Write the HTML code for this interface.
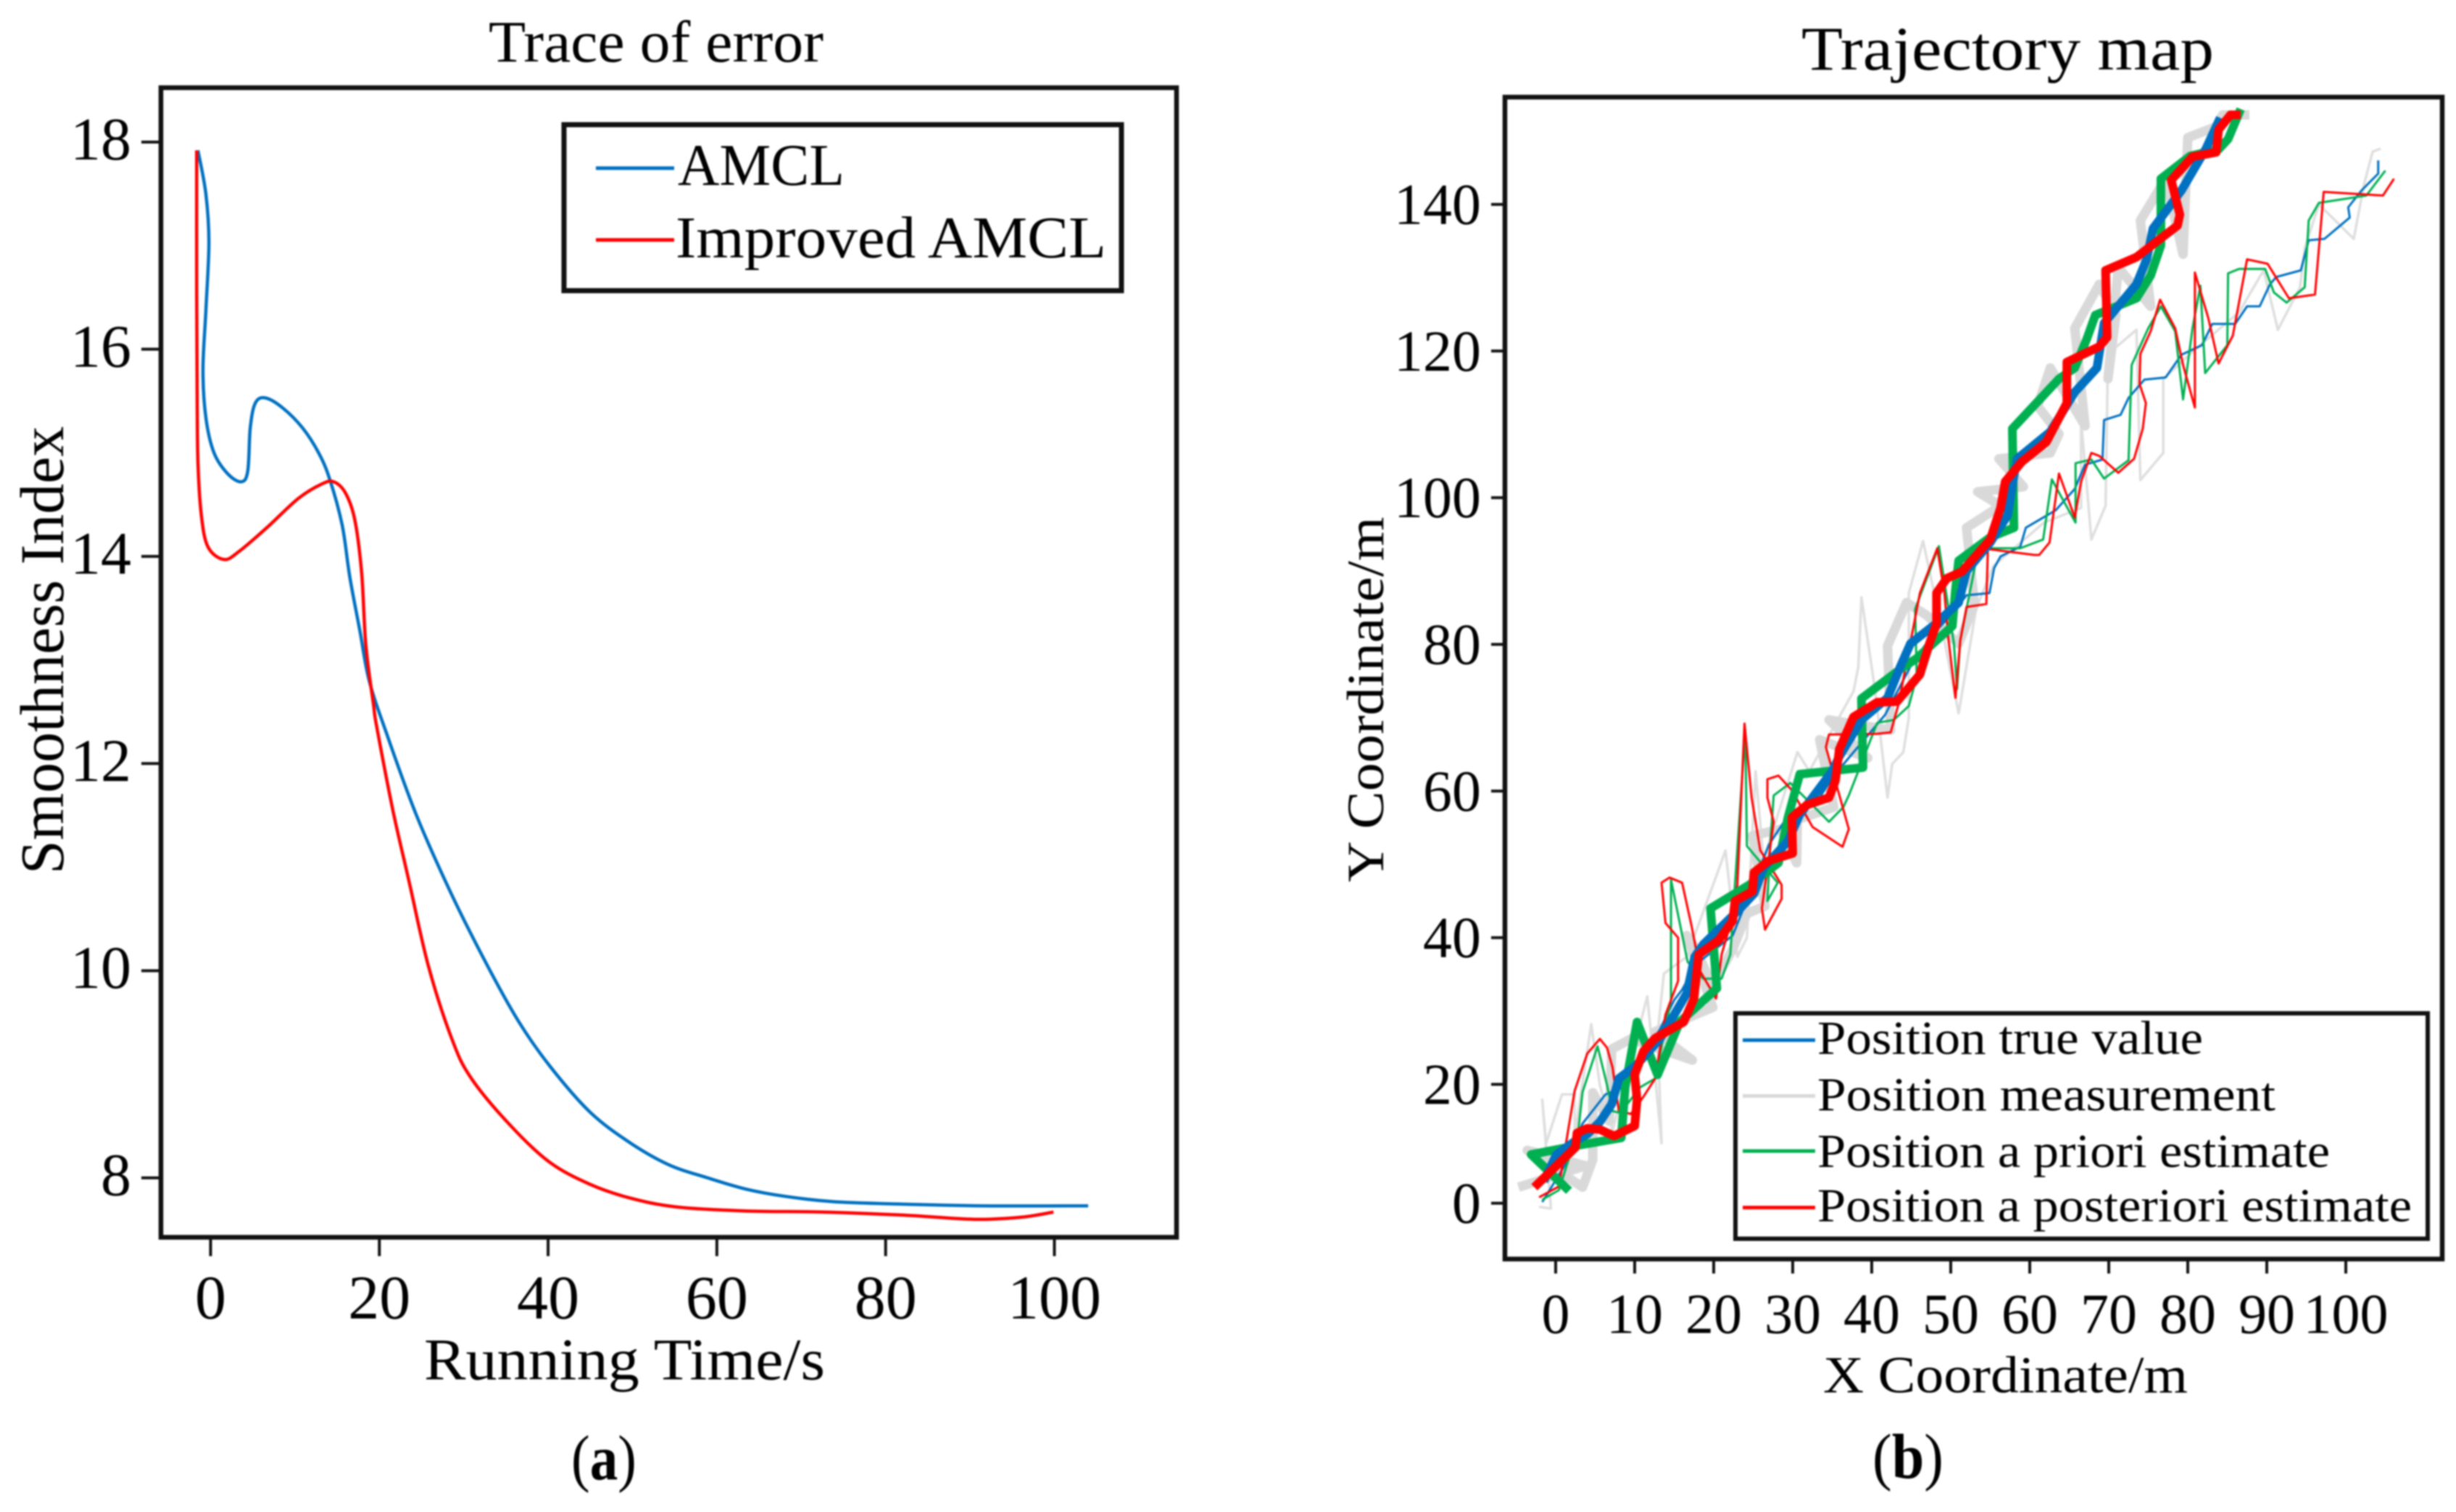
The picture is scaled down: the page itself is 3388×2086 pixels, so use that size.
<!DOCTYPE html>
<html lang="en">
<head>
<meta charset="utf-8">
<title>Trace of error and Trajectory map</title>
<style>
  html, body { margin: 0; padding: 0; background: #fff; }
  svg { display: block; }
  text { font-family: "Liberation Serif", serif; fill: #000; }
</style>
</head>
<body>
<svg id="figure" xmlns="http://www.w3.org/2000/svg" width="3388" height="2086" viewBox="0 0 3388 2086">
  <defs>
    <filter id="soft" x="0" y="0" width="3388" height="2086" filterUnits="userSpaceOnUse" color-interpolation-filters="sRGB">
      <feGaussianBlur stdDeviation="1.1"/>
    </filter>
  </defs>
  <rect width="3388" height="2086" fill="#fff"/>
  <g id="root" filter="url(#soft)">
    <!-- Panel A -->
    <g id="panel-a">
      <text x="674" y="85" font-size="82" textLength="462" lengthAdjust="spacingAndGlyphs">Trace of error</text>
      <g id="a-series"></g>
      <rect x="222" y="121" width="1401" height="1586" fill="none" stroke="#111" stroke-width="6.5"/>
      <g id="a-axes"></g>
      <text x="585" y="1903" font-size="82" textLength="553" lengthAdjust="spacingAndGlyphs">Running Time/s</text>
      <text transform="translate(87,1206) rotate(-90)" font-size="86" textLength="618" lengthAdjust="spacingAndGlyphs">Smoothness Index</text>
      <g>
        <rect x="778" y="172" width="769" height="229" fill="#fff" stroke="#111" stroke-width="7"/>
        <g>
          <line x1="822" y1="232" x2="930" y2="232" stroke="#0070c0" stroke-width="5"/>
          <text x="935" y="255" font-size="82" textLength="230" lengthAdjust="spacingAndGlyphs">AMCL</text>
        </g>
        <g>
          <line x1="822" y1="331" x2="930" y2="331" stroke="#ff0000" stroke-width="5"/>
          <text x="932" y="355" font-size="82" textLength="594" lengthAdjust="spacingAndGlyphs">Improved AMCL</text>
        </g>
      </g>
      <text x="788" y="2041" font-size="88" textLength="90" lengthAdjust="spacingAndGlyphs">(<tspan font-weight="bold">a</tspan>)</text>
    </g>

    <!-- Panel B -->
    <g id="panel-b">
      <text x="2485" y="96" font-size="86" textLength="569" lengthAdjust="spacingAndGlyphs">Trajectory map</text>
      <g id="b-series"></g>
      <rect x="2076" y="134" width="1293" height="1603" fill="none" stroke="#111" stroke-width="6.5"/>
      <g id="b-axes"></g>
      <text x="2515" y="1921" font-size="72" textLength="503" lengthAdjust="spacingAndGlyphs">X Coordinate/m</text>
      <text transform="translate(1908,1217) rotate(-90)" font-size="72" textLength="504" lengthAdjust="spacingAndGlyphs">Y Coordinate/m</text>
      <g>
        <rect x="2394" y="1398" width="955" height="311" fill="#fff" stroke="#111" stroke-width="6"/>
        <g>
          <line x1="2404" y1="1435" x2="2504" y2="1435" stroke="#0070c0" stroke-width="5"/>
          <text x="2507" y="1454" font-size="66" textLength="532" lengthAdjust="spacingAndGlyphs">Position true value</text>
        </g>
        <g>
          <line x1="2404" y1="1512" x2="2504" y2="1512" stroke="#d9d9d9" stroke-width="5"/>
          <text x="2507" y="1532" font-size="66" textLength="632" lengthAdjust="spacingAndGlyphs">Position measurement</text>
        </g>
        <g>
          <line x1="2404" y1="1588" x2="2504" y2="1588" stroke="#00b050" stroke-width="5"/>
          <text x="2507" y="1610" font-size="66" textLength="707" lengthAdjust="spacingAndGlyphs">Position a priori estimate</text>
        </g>
        <g>
          <line x1="2404" y1="1666" x2="2504" y2="1666" stroke="#ff0000" stroke-width="5"/>
          <text x="2507" y="1685" font-size="66" textLength="820" lengthAdjust="spacingAndGlyphs">Position a posteriori estimate</text>
        </g>
      </g>
      <text x="2583" y="2039" font-size="88" textLength="98" lengthAdjust="spacingAndGlyphs">(<tspan font-weight="bold">b</tspan>)</text>
    </g>
  </g>
</svg>

<script>
// ---------- Panel A data ----------
var aXTicks = [0, 20, 40, 60, 80, 100];
var aYTicks = [8, 10, 12, 14, 16, 18];
var amclCurve = [[-1.5,17.92],[-0.56,17.5],[-0.2,17.03],[-0.56,16.37],[-0.9,15.8],[-0.56,15.34],[0.4,15.0],[2.0,14.8],[3.6,14.72],[4.4,14.82],[4.7,15.24],[5.3,15.48],[6.5,15.53],[8.6,15.43],[10.9,15.24],[12.8,15.0],[14.1,14.75],[15.6,14.3],[16.5,13.8],[17.7,13.28],[18.8,12.8],[20.9,12.28],[24.4,11.5],[28.6,10.73],[32.8,10.05],[36.5,9.51],[40.2,9.08],[44.9,8.64],[49.5,8.35],[54.2,8.13],[58.9,8.0],[63.5,7.89],[68.2,7.82],[73.8,7.77],[80.3,7.75],[91.4,7.73],[104,7.73]];
var improvedCurve = [[-1.65,17.92],[-1.65,16.56],[-1.6,15.62],[-1.5,14.92],[-1.1,14.4],[-0.3,14.09],[1.6,13.97],[3.4,14.05],[6.7,14.28],[10.4,14.56],[13.2,14.7],[14.6,14.72],[16,14.61],[17.1,14.35],[17.9,13.84],[18.4,13.14],[19.3,12.57],[19.7,12.35],[21.6,11.55],[23.5,10.87],[25.8,10.05],[28.6,9.34],[30.9,8.96],[35.6,8.5],[40.2,8.15],[44.9,7.94],[49.5,7.81],[55.1,7.72],[63.5,7.68],[72.8,7.67],[82.1,7.64],[90.5,7.6],[96.1,7.62],[99.9,7.67]];

// ---------- Panel B data ----------
var bXTicks = [0, 10, 20, 30, 40, 50, 60, 70, 80, 90, 100];
var bYTicks = [0, 20, 40, 60, 80, 100, 120, 140];

var thinMeasurement = [[-2.1,-0.6],[-0.6,-0.9],[-1.7,17.4],[-1.2,10.1],[0.8,18.3],[2.4,18.3],[2.4,11.3],[4.5,28.2],[5.6,19.9],[7.2,12.2],[11.6,32.0],[13.4,10.1],[12.9,26.8],[13.7,35.1],[16.6,37.4],[20.6,49.2],[21.5,51.9],[23.0,37.4],[24.2,40.0],[25.3,62.7],[26.3,50.5],[30.6,65.3],[32.1,62.7],[37.7,73.6],[38.3,76.9],[38.7,86.4],[40.4,73.9],[42.0,59.1],[42.6,63.7],[44.0,65.3],[44.7,70.0],[44.7,87.0],[46.5,94.1],[49.2,80.5],[51.0,70.6],[53.2,84.8],[55.4,90.7],[61.8,96.6],[66.5,98.6],[66.5,110.6],[67.8,94.3],[69.6,98.9],[69.9,119.6],[73.5,122.9],[74.0,102.4],[76.9,106.1],[76.9,116.2],[80.7,120.0],[86.5,125.3],[89.6,131.0],[91.4,122.9],[94.2,128.7],[94.8,134.0],[96.6,140.0],[101.0,135.3],[102.3,142.7],[103.4,147.2],[104.4,147.6]];
var thinTrue = [[-1.7,0.2],[1.3,6.7],[3.4,13.4],[6.3,18.3],[8.6,19.5],[13.2,27.5],[15.0,31.5],[16.0,32.9],[17.8,36.4],[22.4,40.3],[27.0,52.7],[29.7,57.1],[33.4,59.1],[35.2,62.1],[41.7,70.4],[45.3,77.8],[48.1,81.8],[49.9,83.8],[52.0,86.7],[54.9,87.0],[55.5,90.4],[56.3,92.0],[58.8,93.3],[59.5,95.9],[63.3,98.3],[65.7,101.2],[67.0,104.5],[69.2,105.2],[69.4,110.6],[71.5,111.3],[72.5,113.6],[74.5,116.1],[77.2,116.4],[79.2,119.5],[81.8,120.8],[83.1,123.7],[86.0,123.7],[87.5,126.1],[89.1,126.1],[90.4,129.1],[91.2,130.1],[94.3,131.0],[95.3,135.1],[97.3,135.3],[100.5,138.2],[100.3,139.6],[102.0,141.9],[104.1,144.2],[104.1,146.0]];
var thinPriori = [[-1.7,0.6],[0.4,2.2],[2.9,12.6],[3.4,18.7],[5.3,25.2],[6.5,19.9],[7.2,15.5],[8.2,15.2],[10.7,19.5],[12.6,20.8],[14.6,31.5],[14.6,47.9],[16.7,36.7],[18.7,34.4],[21.0,34.4],[22.1,37.7],[24.0,68.3],[24.2,52.5],[28.1,47.5],[26.8,45.0],[27.2,53.5],[27.6,59.4],[29.7,61.1],[34.6,55.8],[36.4,57.8],[37.1,59.4],[40.7,69.3],[42.8,69.7],[44.7,71.6],[45.7,75.6],[45.5,84.8],[48.5,93.4],[50.4,80.1],[50.8,73.9],[51.2,80.5],[53.2,91.4],[55.0,93.1],[58.8,93.1],[61.7,94.3],[62.8,102.5],[63.9,100.3],[65.8,96.6],[65.8,104.7],[67.8,105.2],[69.4,102.6],[72.5,105.1],[72.9,118.1],[75.0,123.1],[76.6,126.1],[78.4,122.7],[79.4,113.4],[80.6,123.1],[81.6,128.9],[82.2,117.0],[85.0,120.8],[85.1,130.6],[86.5,131.2],[89.8,131.2],[90.9,128.0],[92.5,126.6],[94.8,128.7],[95.3,137.8],[96.6,140.2],[102.6,141.2],[105.0,144.6]];
var thinPosteriori = [[-2.1,1.0],[0.4,2.8],[2.4,18.9],[4.0,24.2],[5.6,26.2],[6.5,25.0],[7.2,22.3],[7.7,18.1],[8.0,15.6],[9.5,15.0],[11.1,17.9],[12.6,20.8],[13.9,29.5],[15.5,34.1],[15.5,40.0],[13.9,42.0],[13.4,47.5],[14.4,48.2],[16.0,47.5],[17.2,41.6],[18.3,35.4],[20.3,31.7],[21.0,37.7],[21.7,40.3],[23.0,47.2],[23.9,69.2],[24.8,59.1],[25.9,51.9],[28.6,47.2],[28.6,45.3],[26.5,41.1],[26.1,44.0],[27.6,55.8],[26.8,59.1],[26.8,61.6],[28.2,62.1],[29.9,60.1],[32.5,55.1],[36.3,52.4],[37.1,54.8],[34.2,66.0],[34.6,67.7],[40.7,67.8],[42.4,68.0],[43.4,71.9],[46.1,87.0],[48.3,93.1],[49.2,87.0],[49.7,80.8],[50.6,72.7],[51.2,80.5],[52.0,85.1],[54.5,85.5],[54.7,93.0],[60.6,92.2],[61.2,92.2],[62.5,93.9],[63.7,103.3],[65.7,97.3],[66.5,102.2],[67.8,106.1],[68.8,105.7],[71.2,103.4],[73.2,105.3],[74.3,109.4],[74.7,112.9],[73.9,115.5],[74.0,119.6],[75.3,122.7],[76.5,127.0],[78.4,123.1],[79.4,118.1],[80.9,112.3],[80.9,130.7],[82.6,124.5],[83.9,118.3],[85.7,122.1],[87.5,132.5],[90.1,131.9],[92.8,127.2],[96.1,127.7],[97.2,141.7],[104.7,141.2],[106.1,143.5]];

var thickMeasurement = [[-4.7,2.7],[3.8,6.3],[-3.6,8.9],[3.4,2.7],[4.7,7.3],[4.7,18.6],[6.8,13.8],[7.1,24.8],[9.5,26.2],[17.3,23.3],[12.6,27.2],[19.9,30.5],[16.6,40.3],[17.8,38.4],[19.8,33.4],[22.4,38.4],[24.2,43.3],[26.5,44.3],[24.9,53.9],[28.5,54.8],[30.5,50.2],[30.6,56.1],[35.2,57.8],[33.4,67.0],[39.5,64.5],[34.6,69.7],[42.4,68.3],[42.0,79.8],[44.4,85.7],[46.9,84.0],[51.0,80.1],[53.0,85.4],[52.0,95.9],[56.3,98.9],[53.4,100.8],[59.2,101.5],[56.1,105.3],[62.6,106.1],[63.7,108.7],[61.0,112.5],[62.6,117.7],[67.0,109.8],[65.7,123.1],[68.8,129.1],[70.9,124.9],[69.9,116.2],[71.2,131.4],[75.3,126.1],[74.0,137.8],[77.2,143.5],[79.4,133.2],[80.0,149.1],[83.6,150.6],[84.4,152.2],[87.8,152.2]];
var thickPriori = [[1.7,2.1],[-3.1,8.2],[3.1,9.8],[8.3,11.0],[8.8,19.5],[10.3,28.5],[12.9,21.3],[15.7,28.5],[20.4,33.1],[19.6,44.0],[24.5,47.2],[28.2,50.2],[29.4,56.4],[30.9,62.3],[38.9,63.2],[38.7,72.6],[43.6,76.6],[45.7,78.1],[50.2,82.5],[50.6,87.4],[51.0,91.4],[55.0,94.6],[58.0,95.9],[57.8,109.4],[63.7,116.2],[65.7,117.7],[67.2,121.6],[68.3,124.9],[73.5,127.2],[75.3,130.3],[76.6,134.4],[76.6,143.5],[80.3,146.6],[83.9,147.5],[85.1,148.9],[86.7,153.0]];
var thickTrue = [[-1.5,3.7],[0.1,8.2],[2.4,10.4],[4.0,11.6],[5.6,13.7],[7.1,16.7],[8.0,20.8],[10.2,22.6],[13.2,26.2],[16.6,32.4],[17.6,37.4],[18.7,39.1],[23.0,43.6],[25.1,46.0],[26.3,49.5],[29.4,53.2],[30.9,56.8],[35.0,62.7],[35.9,64.7],[38.7,69.7],[42.0,72.7],[43.6,76.9],[44.9,80.1],[48.1,82.8],[51.0,85.7],[52.0,90.0],[55.0,93.9],[57.2,97.6],[58.0,103.0],[58.4,105.3],[62.6,109.0],[65.7,114.4],[68.5,117.7],[69.4,123.8],[73.5,129.1],[74.8,132.5],[75.6,136.7],[79.2,141.9],[82.3,147.6],[84.1,151.8]];
var thickPosteriori = [[-2.7,2.7],[2.5,9.4],[2.7,11.8],[4.0,12.6],[5.6,12.4],[7.4,11.3],[10.0,13.0],[10.3,17.4],[10.0,21.3],[11.1,24.5],[12.6,26.3],[16.2,28.5],[17.5,31.7],[18.1,37.7],[20.6,39.6],[22.4,42.3],[22.7,45.0],[24.9,46.3],[25.1,48.9],[27.0,50.5],[30.0,51.5],[29.9,56.4],[31.8,58.1],[34.6,59.1],[35.4,61.4],[35.9,65.7],[37.7,70.1],[40.7,72.1],[43.2,72.2],[46.1,75.9],[47.3,80.1],[48.2,82.8],[48.2,87.0],[49.5,89.0],[51.4,89.9],[55.0,94.3],[56.3,98.6],[56.9,102.2],[59.0,104.9],[62.1,107.6],[64.7,112.9],[64.7,118.5],[68.8,120.6],[69.8,121.9],[69.6,131.0],[73.5,132.8],[78.7,137.1],[79.0,138.6],[77.9,143.3],[80.6,146.5],[83.6,147.1],[83.9,150.2],[85.4,152.2],[86.7,152.2]];

// ---------- Axis functions ----------
function aX(v) { return 290.5 + 11.64 * v; }
function aY(v) { return 196 + (18 - v) * 142.9; }
function bX(v) { return 2146 + 10.9 * v; }
function bY(v) { return v >= 20 ? 1496 - (v - 20) * 10.117 : 1660 - v * 8.2; }

var NS = 'http://www.w3.org/2000/svg';
function make(tag, parent, attrs) {
  var node = document.createElementNS(NS, tag);
  for (var k in attrs) node.setAttribute(k, attrs[k]);
  parent.appendChild(node);
  return node;
}
function polyPath(points, fx, fy) {
  var d = '';
  for (var i = 0; i < points.length; i++) {
    d += (i ? 'L' : 'M') + fx(points[i][0]).toFixed(1) + ' ' + fy(points[i][1]).toFixed(1);
  }
  return d;
}
function smoothPath(points, fx, fy) {
  var p = points.map(function (q) { return [fx(q[0]), fy(q[1])]; });
  var d = 'M' + p[0][0].toFixed(1) + ' ' + p[0][1].toFixed(1);
  for (var i = 0; i < p.length - 1; i++) {
    var p0 = p[Math.max(i - 1, 0)], p1 = p[i], p2 = p[i + 1], p3 = p[Math.min(i + 2, p.length - 1)];
    var c1x = p1[0] + (p2[0] - p0[0]) / 6, c1y = p1[1] + (p2[1] - p0[1]) / 6;
    var c2x = p2[0] - (p3[0] - p1[0]) / 6, c2y = p2[1] - (p3[1] - p1[1]) / 6;
    d += 'C' + c1x.toFixed(1) + ' ' + c1y.toFixed(1) + ' ' + c2x.toFixed(1) + ' ' + c2y.toFixed(1) + ' ' + p2[0].toFixed(1) + ' ' + p2[1].toFixed(1);
  }
  return d;
}

var aSeries = document.getElementById('a-series');
var aAxes = document.getElementById('a-axes');
var bSeries = document.getElementById('b-series');
var bAxes = document.getElementById('b-axes');

// ---------- Panel A marks ----------
var amclLine = make('path', aSeries, { d: smoothPath(amclCurve, aX, aY), fill: 'none', stroke: '#0070c0', 'stroke-width': 4.5, 'stroke-linejoin': 'round' });


var improvedLine = make('path', aSeries, { d: smoothPath(improvedCurve, aX, aY), fill: 'none', stroke: '#ff0000', 'stroke-width': 4.5, 'stroke-linejoin': 'round' });



aXTicks.forEach(function (v) {
  var tick = make('line', aAxes, { x1: aX(v), x2: aX(v), y1: 1707, y2: 1733, stroke: '#111', 'stroke-width': 4 });
  
  
  var label = make('text', aAxes, { x: aX(v), y: 1819, 'font-size': 86, 'text-anchor': 'middle' });
  
  
  label.textContent = String(v);
});
aYTicks.forEach(function (v) {
  var tick = make('line', aAxes, { x1: 195, x2: 222, y1: aY(v), y2: aY(v), stroke: '#111', 'stroke-width': 4 });
  
  
  var label = make('text', aAxes, { x: 181, y: aY(v) + 24, 'font-size': 84, 'text-anchor': 'end' });
  
  
  label.textContent = String(v);
});

// ---------- Panel B marks ----------
function drawB(points, color, width) {
  return make('path', bSeries, { d: polyPath(points, bX, bY), fill: 'none', stroke: color, 'stroke-width': width, 'stroke-linejoin': 'round', 'stroke-linecap': 'butt' });
}
var l1 = drawB(thinMeasurement, '#dedede', 3.5);


var l2 = drawB(thickMeasurement, '#d9d9d9', 13);


var l3 = drawB(thinTrue, '#0070c0', 3);


var l4 = drawB(thinPriori, '#00b050', 3);


var l5 = drawB(thinPosteriori, '#ff0000', 3);


var l6 = drawB(thickPriori, '#00b050', 12);


var l7 = drawB(thickTrue, '#0070c0', 12);


var l8 = drawB(thickPosteriori, '#ff0000', 12);



bXTicks.forEach(function (v) {
  var tick = make('line', bAxes, { x1: bX(v), x2: bX(v), y1: 1737, y2: 1757, stroke: '#111', 'stroke-width': 4 });
  
  
  var label = make('text', bAxes, { x: bX(v), y: 1839, 'font-size': 78, 'text-anchor': 'middle' });
  
  
  label.textContent = String(v);
});
bYTicks.forEach(function (v) {
  var tick = make('line', bAxes, { x1: 2057, x2: 2076, y1: bY(v), y2: bY(v), stroke: '#111', 'stroke-width': 4 });
  
  
  var label = make('text', bAxes, { x: 2043, y: bY(v) + 27, 'font-size': 80, 'text-anchor': 'end' });
  
  
  label.textContent = String(v);
});
</script>
</body>
</html>
